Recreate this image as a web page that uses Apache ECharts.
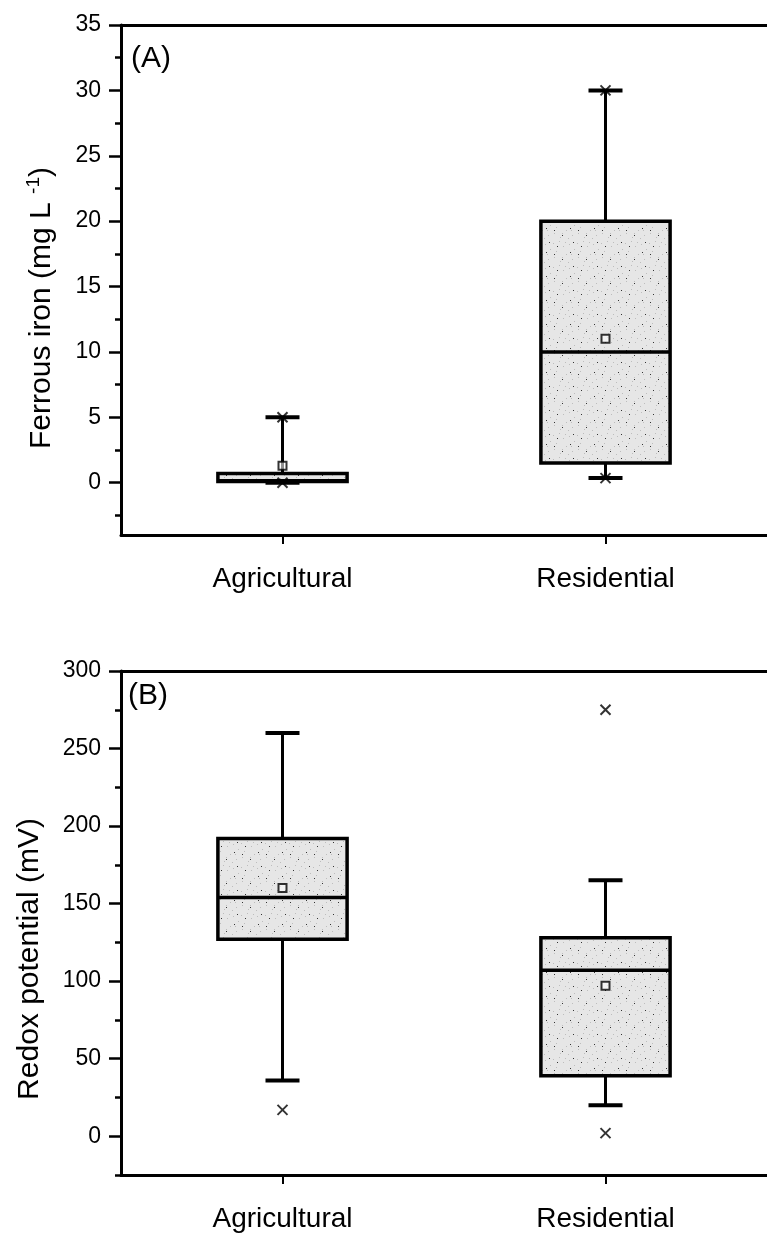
<!DOCTYPE html>
<html>
<head>
<meta charset="utf-8">
<script src="https://cdn.jsdelivr.net/npm/echarts@6/dist/echarts.min.js"></script>
<style>
html,body{margin:0;padding:0;background:#fff}
#chart{width:767px;height:1244px}
</style>
</head>
<body>
<div id="chart"></div>
<script>
var categories = ['Agricultural', 'Residential'];

// (A) ferrous iron, mg/L
var feLow = [0, 0.35];
var feQ1 = [0.1, 1.5];
var feMedian = [0.15, 10];
var feQ3 = [0.7, 20];
var feHigh = [5, 30];
var feMean = [1.3, 11];
var feMinX = [0, 0.35];
var feMaxX = [5, 30];

// (B) redox potential, mV
var ehLow = [36, 20];
var ehQ1 = [127, 39];
var ehMedian = [154, 107];
var ehQ3 = [192, 128];
var ehHigh = [260, 165];
var ehMean = [160, 97];
var ehMinX = [17, 2];
var ehMaxX = [null, 275];

var feTicks = [0, 5, 10, 15, 20, 25, 30, 35];
var feMinor = [-2.5, 2.5, 7.5, 12.5, 17.5, 22.5, 27.5, 32.5];
var ehTicks = [0, 50, 100, 150, 200, 250, 300];
var ehMinor = [-25, 25, 75, 125, 175, 225, 275];

var FONT = 'Liberation Sans';

// speckled grey fill like the scan
var tex = document.createElement('canvas');
tex.width = 24; tex.height = 24;
var ctx = tex.getContext('2d');
ctx.fillStyle = '#e6e6e6';
ctx.fillRect(0, 0, 24, 24);
ctx.fillStyle = '#bdbdbd';
[[1,3],[7,1],[11,6],[17,4],[22,9],[4,11],[14,14],[20,19],[8,21],[2,17],[16,22],[10,17],[13,2],[19,14]].forEach(function (p) {
    ctx.fillRect(p[0], p[1], 1, 1);
});
ctx.fillStyle = '#333';
[[5,6],[18,12],[10,19],[21,2],[2,14]].forEach(function (p) {
    ctx.fillRect(p[0], p[1], 1, 1);
});
var boxFill = {image: tex, repeat: 'repeat'};

function boxItem(params, api) {
    var i = api.value(0);
    var bw = api.size([1, 0])[0] * 0.4;
    var cw = 17;
    var low = api.coord([i, api.value(1)]);
    var q1 = api.coord([i, api.value(2)]);
    var med = api.coord([i, api.value(3)]);
    var q3 = api.coord([i, api.value(4)]);
    var high = api.coord([i, api.value(5)]);
    var x = low[0];
    var ls = {stroke: '#000', lineWidth: 3};
    return {
        type: 'group',
        children: [
            {type: 'line', shape: {x1: x, y1: q3[1], x2: x, y2: high[1]}, style: ls},
            {type: 'line', shape: {x1: x, y1: low[1], x2: x, y2: q1[1]}, style: ls},
            {type: 'line', shape: {x1: x - cw, y1: high[1], x2: x + cw, y2: high[1]}, style: {stroke: '#000', lineWidth: 4}},
            {type: 'line', shape: {x1: x - cw, y1: low[1], x2: x + cw, y2: low[1]}, style: {stroke: '#000', lineWidth: 4}},
            {type: 'rect', shape: {x: x - bw / 2, y: q3[1], width: bw, height: q1[1] - q3[1]},
                style: {fill: boxFill, stroke: '#000', lineWidth: 3.5}},
            {type: 'line', shape: {x1: x - bw / 2, y1: med[1], x2: x + bw / 2, y2: med[1]}, style: {stroke: '#000', lineWidth: 3.5}}
        ]
    };
}

function boxData(lo, a, m, b, hi) {
    return categories.map(function (c, i) { return [i, lo[i], a[i], m[i], b[i], hi[i]]; });
}
function meanData(mean) {
    return categories.map(function (c, i) { return [i, mean[i]]; });
}
function extremeData(mins, maxs) {
    var out = [];
    categories.forEach(function (c, i) {
        if (mins[i] != null) out.push([i, mins[i]]);
        if (maxs[i] != null) out.push([i, maxs[i]]);
    });
    return out;
}

function xAxes(grid) {
    return [{
        type: 'category', gridIndex: grid, data: categories, position: 'bottom',
        axisLine: {onZero: false, lineStyle: {color: '#000', width: 3}},
        axisTick: {show: true, alignWithLabel: true, length: 9, lineStyle: {color: '#000', width: 2}},
        axisLabel: {color: '#000', fontSize: 28, fontFamily: FONT, margin: 30}
    }, {
        type: 'category', gridIndex: grid, data: categories, position: 'top',
        axisLine: {onZero: false, lineStyle: {color: '#000', width: 3}},
        axisTick: {show: false}, axisLabel: {show: false}
    }];
}

function yAxes(grid, min, max, ticks, minor, name, gap, rich, pad) {
    return [{
        type: 'value', gridIndex: grid, min: min, max: max, position: 'left',
        name: name, nameLocation: 'middle', nameGap: gap,
        nameTextStyle: {color: '#000', fontSize: 30, fontFamily: FONT, padding: pad, rich: rich},
        splitLine: {show: false},
        axisLine: {show: true, onZero: false, lineStyle: {color: '#000', width: 3}},
        axisTick: {show: true, customValues: ticks, length: 12, lineStyle: {color: '#000', width: 2.5}},
        axisLabel: {customValues: ticks, color: '#000', fontSize: 23, fontFamily: FONT, margin: 20}
    }, {
        // minor ticks only
        type: 'value', gridIndex: grid, min: min, max: max, position: 'left', offset: 0,
        splitLine: {show: false},
        axisLine: {show: false, onZero: false},
        axisTick: {show: true, customValues: minor, length: 6, lineStyle: {color: '#000', width: 2.5}},
        axisLabel: {show: false}
    }];
}

var supRich = {
    t: {fontSize: 30, fontFamily: FONT, color: '#000'},
    s: {fontSize: 19, fontFamily: FONT, color: '#000', padding: [0, 0, 16, 0]}
};

var myChart = echarts.init(document.getElementById('chart'));
var option = {
    backgroundColor: '#fff',
    animation: false,
    grid: [
        {left: 121, top: 25, width: 654, height: 510},
        {left: 121, top: 671, width: 654, height: 504}
    ],
    xAxis: xAxes(0).concat(xAxes(1)),
    yAxis: yAxes(0, -4, 35, feTicks, feMinor, '{t|Ferrous iron (mg L }{s|-1}{t|)}', 62, supRich, [0, 56, 0, 0])
        .concat(yAxes(1, -25, 300, ehTicks, ehMinor, 'Redox potential (mV)', 76, null, [0, 72, 0, 0])),
    graphic: [
        {type: 'text', left: 131, top: 44, style: {text: '(A)', font: '30px "Liberation Sans"', fill: '#000'}},
        {type: 'text', left: 128, top: 681, style: {text: '(B)', font: '30px "Liberation Sans"', fill: '#000'}}
    ],
    series: [
        {type: 'custom', xAxisIndex: 0, yAxisIndex: 0, renderItem: boxItem,
            encode: {x: 0, y: [1, 2, 3, 4, 5]}, data: boxData(feLow, feQ1, feMedian, feQ3, feHigh)},
        {type: 'custom', xAxisIndex: 2, yAxisIndex: 2, renderItem: boxItem,
            encode: {x: 0, y: [1, 2, 3, 4, 5]}, data: boxData(ehLow, ehQ1, ehMedian, ehQ3, ehHigh)},
        {type: 'scatter', xAxisIndex: 0, yAxisIndex: 0, symbol: 'rect', symbolSize: 8, z: 5,
            itemStyle: {color: 'rgba(255,255,255,0.7)', borderColor: '#000', borderWidth: 2},
            data: meanData(feMean)},
        {type: 'scatter', xAxisIndex: 2, yAxisIndex: 2, symbol: 'rect', symbolSize: 8, z: 5,
            itemStyle: {color: 'rgba(255,255,255,0.7)', borderColor: '#000', borderWidth: 2},
            data: meanData(ehMean)},
        {type: 'scatter', xAxisIndex: 0, yAxisIndex: 0, symbol: 'path://M0,0L10,10M10,0L0,10', symbolSize: 10, z: 6,
            itemStyle: {color: 'none', borderColor: '#000', borderWidth: 2},
            data: extremeData(feMinX, feMaxX)},
        {type: 'scatter', xAxisIndex: 2, yAxisIndex: 2, symbol: 'path://M0,0L10,10M10,0L0,10', symbolSize: 10, z: 6,
            itemStyle: {color: 'none', borderColor: '#000', borderWidth: 2},
            data: extremeData(ehMinX, ehMaxX)}
    ]
};
myChart.setOption(option);
window.onresize = myChart.resize;
</script>
</body>
</html>
